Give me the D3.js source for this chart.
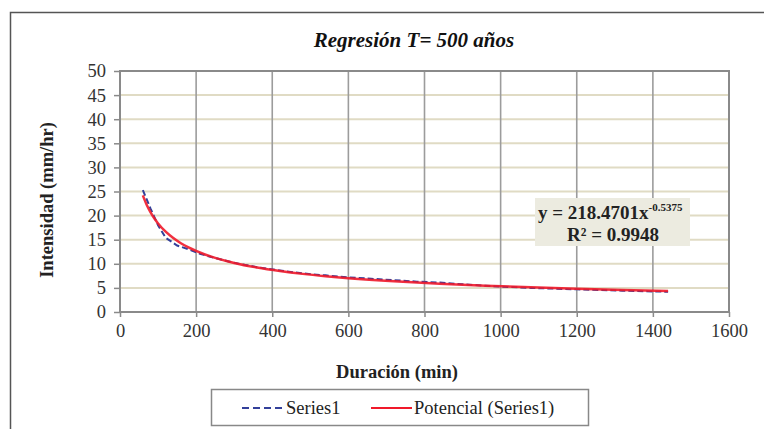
<!DOCTYPE html>
<html>
<head>
<meta charset="utf-8">
<script src="https://cdnjs.cloudflare.com/ajax/libs/d3/7.8.5/d3.min.js"></script>
<style>
  body { margin: 0; background: #fff; }
  svg { display: block; }
  svg text { font-family: "Liberation Serif", "Times New Roman", serif; }
</style>
</head>
<body>
<svg id="chart" width="764" height="429"></svg>
<script>
// observed data (Series1)
var durations = [60, 80, 100, 120, 150, 180, 210, 240, 300, 360, 420, 480, 540, 600, 660, 720, 780, 840, 900, 960, 1020, 1080, 1140, 1200, 1260, 1320, 1380, 1440];
var intensities = [25.3, 21.5, 18.0, 15.4, 13.8, 13.0, 12.1, 11.4, 10.2, 9.3, 8.6, 8.0, 7.6, 7.2, 6.9, 6.6, 6.3, 6.1, 5.75, 5.45, 5.2, 5.0, 4.85, 4.7, 4.55, 4.42, 4.3, 4.2];

// power trendline
var trendX = [60, 70, 80, 90, 100, 120, 140, 160, 180, 200, 240, 300, 360, 420, 480, 540, 600, 720, 840, 960, 1080, 1200, 1320, 1440];
var trendY = [24.19, 22.26, 20.74, 19.45, 18.38, 16.66, 15.34, 14.27, 13.40, 12.67, 11.48, 10.18, 9.23, 8.50, 7.91, 7.43, 7.02, 6.36, 5.85, 5.45, 5.11, 4.83, 4.59, 4.38];

var xTicks = [0, 200, 400, 600, 800, 1000, 1200, 1400, 1600];
var yTicks = [0, 5, 10, 15, 20, 25, 30, 35, 40, 45, 50];

var titleText = "Regresión T= 500 años";
var xTitle = "Duración (min)";
var yTitle = "Intensidad (mm/hr)";
var legendNames = ["Series1", "Potencial (Series1)"];

var svg = d3.select("#chart");
var pLeft = 120, pRight = 729, pTop = 71, pBottom = 312;

var x = d3.scaleLinear().domain([0, 1600]).range([pLeft, pRight]);
var y = d3.scaleLinear().domain([0, 50]).range([pBottom, pTop]);

// outer frame (only top and left show)
svg.append("path")
  .attr("d", "M10.5,429 L10.5,12.5 L764,12.5")
  .attr("fill", "none").attr("stroke", "#555").attr("stroke-width", 1.5);

// title
svg.append("text")
  .attr("x", 414).attr("y", 47)
  .attr("text-anchor", "middle")
  .attr("font-size", 21).attr("font-weight", "bold").attr("font-style", "italic")
  .attr("fill", "#111")
  .text(titleText);

// horizontal gridlines
svg.append("g").selectAll("line").data(yTicks.slice(1)).join("line")
  .attr("x1", pLeft).attr("x2", pRight)
  .attr("y1", function(d){ return y(d); }).attr("y2", function(d){ return y(d); })
  .attr("stroke", "#e0dbc4").attr("stroke-width", 2);

// vertical gridlines
svg.append("g").selectAll("line").data(xTicks.slice(1, -1)).join("line")
  .attr("x1", function(d){ return x(d); }).attr("x2", function(d){ return x(d); })
  .attr("y1", pTop).attr("y2", pBottom)
  .attr("stroke", "#9c9c9c").attr("stroke-width", 1.6);

// plot border
svg.append("rect")
  .attr("x", pLeft).attr("y", pTop).attr("width", pRight - pLeft).attr("height", pBottom - pTop)
  .attr("fill", "none").attr("stroke", "#8a8a8a").attr("stroke-width", 2);

// axes
var xAxis = svg.append("g").attr("transform", "translate(0," + pBottom + ")")
  .call(d3.axisBottom(x).tickValues(xTicks).tickSize(5).tickPadding(7).tickFormat(d3.format("d")));
var yAxis = svg.append("g").attr("transform", "translate(" + pLeft + ",0)")
  .call(d3.axisLeft(y).tickValues(yTicks).tickSize(6).tickPadding(8).tickFormat(d3.format("d")));
[xAxis, yAxis].forEach(function(g){
  g.attr("font-family", null).attr("font-size", null);
  g.select(".domain").remove();
  g.selectAll(".tick line").attr("stroke", "#8a8a8a").attr("stroke-width", 1.5);
  g.selectAll(".tick text").attr("font-size", 18.5).attr("fill", "#333");
});

// axis titles
svg.append("text")
  .attr("x", 397).attr("y", 378)
  .attr("text-anchor", "middle")
  .attr("font-size", 18.5).attr("font-weight", "bold").attr("fill", "#222")
  .text(xTitle);
svg.append("text")
  .attr("transform", "translate(53,200) rotate(-90)")
  .attr("text-anchor", "middle")
  .attr("font-size", 18.5).attr("font-weight", "bold").attr("fill", "#222")
  .text(yTitle);

// series
var line = d3.line().x(function(d){ return x(d[0]); }).y(function(d){ return y(d[1]); });

svg.append("path")
  .datum(durations.map(function(d, i){ return [d, intensities[i]]; }))
  .attr("d", line)
  .attr("fill", "none").attr("stroke", "#33409a").attr("stroke-width", 2)
  .attr("stroke-dasharray", "6,3");

svg.append("path")
  .datum(trendX.map(function(d, i){ return [d, trendY[i]]; }))
  .attr("d", line.curve(d3.curveMonotoneX))
  .attr("fill", "none").attr("stroke", "#f0192a").attr("stroke-width", 2.5)
  .attr("stroke-opacity", 0.9);

// equation label
var eq = svg.append("g");
eq.append("rect")
  .attr("x", 535).attr("y", 198).attr("width", 155).attr("height", 48)
  .attr("fill", "#ecebe0");
var t1 = eq.append("text").attr("x", 538).attr("y", 219)
  .attr("font-size", 19).attr("font-weight", "bold").attr("fill", "#222");
t1.append("tspan").text("y = 218.4701x");
t1.append("tspan").attr("dy", -8).attr("font-size", 11).text("-0.5375");
eq.append("text").attr("x", 613).attr("y", 241)
  .attr("text-anchor", "middle")
  .attr("font-size", 19).attr("font-weight", "bold").attr("fill", "#222")
  .text("R² = 0.9948");

// legend
var lg = svg.append("g");
lg.append("rect")
  .attr("x", 211.5).attr("y", 389.5).attr("width", 377).attr("height", 36)
  .attr("fill", "#fff").attr("stroke", "#888").attr("stroke-width", 1.5);
lg.append("line").attr("x1", 242).attr("x2", 284).attr("y1", 408).attr("y2", 408)
  .attr("stroke", "#33409a").attr("stroke-width", 2).attr("stroke-dasharray", "7,4");
lg.append("text").attr("x", 286).attr("y", 414).attr("font-size", 18.5).attr("fill", "#222")
  .text(legendNames[0]);
lg.append("line").attr("x1", 371).attr("x2", 412).attr("y1", 408).attr("y2", 408)
  .attr("stroke", "#f0192a").attr("stroke-width", 2);
lg.append("text").attr("x", 414).attr("y", 414).attr("font-size", 18.5).attr("fill", "#222")
  .text(legendNames[1]);
</script>
</body>
</html>
